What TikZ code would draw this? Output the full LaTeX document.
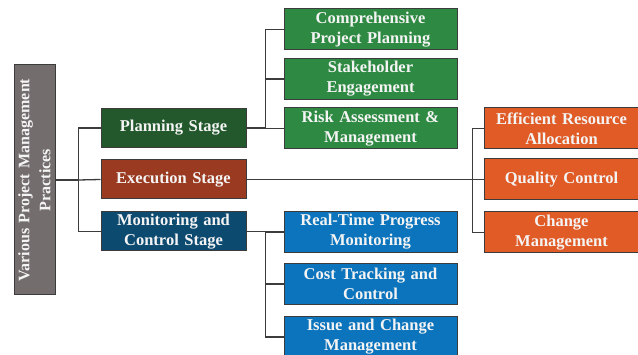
\documentclass[tikz,border=0pt]{standalone}
\usepackage{fontspec}
\setmainfont{Liberation Serif}
\definecolor{rootc}{HTML}{736D6D}
\definecolor{plandark}{HTML}{22582C}
\definecolor{plangreen}{HTML}{2E8A43}
\definecolor{execdark}{HTML}{9A3A20}
\definecolor{execorange}{HTML}{E05B26}
\definecolor{mondark}{HTML}{0D4A70}
\definecolor{monblue}{HTML}{0B74BC}
\definecolor{edgec}{HTML}{3C3C3C}
\definecolor{txtc}{HTML}{F4F4F4}
\tikzset{
  box/.style={draw=edgec, line width=1pt, rectangle, inner sep=1pt, align=center,
    text=txtc, font=\fontsize{16.5}{20}\selectfont\bfseries},
  stagebox/.style={box, minimum width=145pt, minimum height=39pt, text width=142pt},
  childbox/.style={box, minimum width=173pt, minimum height=41pt, text width=170pt},
  orangebox/.style={box, fill=execorange, minimum width=155pt, minimum height=41pt, text width=152pt},
  conn/.style={draw=edgec, line width=1.3pt},
}
\begin{document}
\begin{tikzpicture}[x=1pt,y=-1pt]
\useasboundingbox (0,0) rectangle (638,355);
% root
\node[box, fill=rootc, rotate=90, minimum width=230pt, minimum height=41pt, text width=225pt,
  font=\fontsize{16}{21}\selectfont\bfseries] (root) at (34.5,180) {Various Project Management\\Practices};
% stages
\node[stagebox, fill=plandark] (plan) at (173.5,128) {Planning Stage};
\node[stagebox, fill=execdark] (exec) at (173.5,179.5) {Execution Stage};
\node[stagebox, fill=mondark] (mon) at (173.5,231.5) {Monitoring and\\Control Stage};
% planning children
\node[childbox, fill=plangreen] (comp) at (370.5,29.5) {Comprehensive\\Project Planning};
\node[childbox, fill=plangreen] (stake) at (370.5,79) {Stakeholder\\Engagement};
\node[childbox, fill=plangreen] (risk) at (370.5,128.5) {Risk Assessment \&\\Management};
% monitoring children
\node[childbox, fill=monblue] (real) at (370.5,232) {Real-Time Progress\\Monitoring};
\node[childbox, fill=monblue] (cost) at (370.5,284) {Cost Tracking and\\Control};
\node[childbox, fill=monblue] (issue) at (370.5,337) {Issue and Change\\Management};
% execution children
\node[orangebox] (eff) at (561.5,128.5) {Efficient Resource\\Allocation};
\node[orangebox] (qual) at (561.5,179.5) {Quality Control};
\node[orangebox] (chg) at (561.5,232.5) {Change\\Management};
% connectors root
\draw[conn, line width=1.8pt] (root.south) -- ++(23,0) coordinate (rt);
\draw[conn] (plan.west) -| (rt);
\draw[conn] (mon.west) -| (rt);
\draw[conn] (exec.west) -- (rt);
% planning
\draw[conn] (plan.east) -- ++(19,0) coordinate (pb);
\draw[conn] (comp.west) -| (pb);
\draw[conn] (stake.west) -| (pb);
\draw[conn] (risk.west) -| (pb);
% monitoring
\draw[conn] (mon.east) -- ++(19,0) coordinate (mb);
\draw[conn] (real.west) -| (mb);
\draw[conn] (cost.west) -| (mb);
\draw[conn] (issue.west) -| (mb);
% execution
\coordinate (eb) at ([xshift=-11pt]qual.west);
\draw[conn] (exec.east) -- (qual.west);
\draw[conn] (eff.west) -| (eb);
\draw[conn] (chg.west) -| (eb);
\end{tikzpicture}
\end{document}
